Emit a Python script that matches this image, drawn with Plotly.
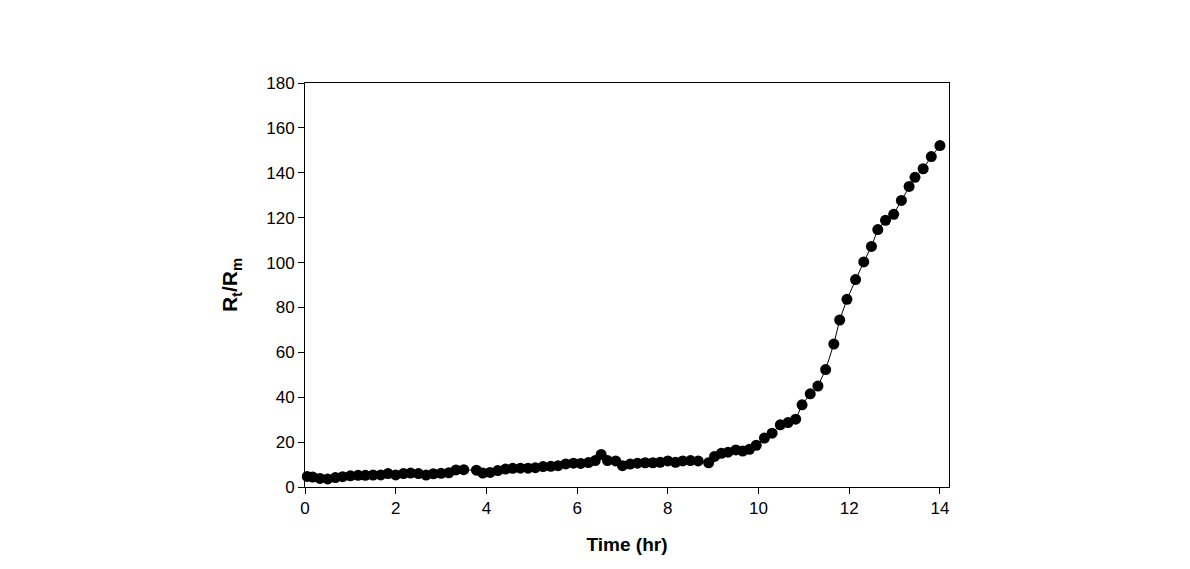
import plotly.graph_objects as go

time_hr = [0.05, 0.17, 0.33, 0.50, 0.67, 0.83, 1.00, 1.17, 1.33, 1.50, 1.67, 1.83,
           2.00, 2.17, 2.33, 2.50, 2.67, 2.83, 3.00, 3.17, 3.33, 3.50, 3.78, 3.92,
           4.08, 4.25, 4.42, 4.58, 4.75, 4.92, 5.08, 5.25, 5.42, 5.58, 5.75, 5.92,
           6.08, 6.25, 6.40, 6.53, 6.67, 6.85, 7.00, 7.17, 7.33, 7.50, 7.67, 7.83,
           8.00, 8.17, 8.33, 8.50, 8.67, 8.90, 9.03, 9.18, 9.33, 9.50, 9.65, 9.80,
           9.95, 10.13, 10.30, 10.48, 10.65, 10.82, 10.96, 11.14, 11.31, 11.48, 11.66, 11.79,
           11.95, 12.14, 12.32, 12.49, 12.63, 12.80, 12.98, 13.15, 13.32, 13.45, 13.63, 13.81,
           14.00]
ratio = [4.7, 4.4, 3.8, 3.6, 4.2, 4.6, 5.0, 5.2, 5.2, 5.3, 5.4, 6.0,
         5.4, 6.0, 6.2, 6.0, 5.3, 5.9, 6.1, 6.3, 7.6, 7.7, 7.5, 6.2,
         6.5, 7.3, 8.0, 8.3, 8.4, 8.4, 8.6, 9.1, 9.2, 9.5, 10.3, 10.6,
         10.5, 10.9, 11.8, 14.5, 11.8, 11.6, 9.5, 10.2, 10.6, 10.8, 10.8, 11.0,
         11.6, 11.0, 11.6, 11.8, 11.6, 10.8, 13.6, 15.0, 15.5, 16.5, 16.0, 16.8,
         18.6, 21.8, 24.0, 27.7, 28.7, 30.2, 36.6, 41.5, 45.0, 52.3, 63.7, 74.4,
         83.6, 92.4, 100.3, 107.2, 114.7, 118.8, 121.5, 127.7, 133.9, 138.0, 141.8, 147.2,
         152.1]

x_ticks = [0, 2, 4, 6, 8, 10, 12, 14]
y_ticks = [0, 20, 40, 60, 80, 100, 120, 140, 160, 180]

fig = go.Figure()
fig.add_trace(go.Scatter(
    x=time_hr, y=ratio, mode="lines+markers",
    line=dict(color="black", width=1),
    marker=dict(color="black", size=11),
    cliponaxis=False, showlegend=False,
))

font = "Liberation Sans, Arial, sans-serif"
fig.update_layout(
    width=1190, height=569,
    paper_bgcolor="white", plot_bgcolor="white",
    margin=dict(l=297, r=249, t=75, b=90),
    font=dict(family=font, size=17, color="black"),
)
fig.update_xaxes(
    range=[0, 14.2], tickvals=x_ticks, ticks="outside", ticklen=6, tickwidth=1,
    tickcolor="black", showline=True, linecolor="black", linewidth=1, mirror=True,
    showgrid=False, zeroline=False,
    title=dict(text="<b>Time (hr)</b>", font=dict(size=19), standoff=20),
)
fig.update_yaxes(
    range=[0, 180], tickvals=y_ticks, ticks="outside", ticklen=6, tickwidth=1,
    tickcolor="black", showline=True, linecolor="black", linewidth=1, mirror=True,
    showgrid=False, zeroline=False,
    title=dict(text="<b>R<sub>t</sub>/R<sub>m</sub></b>", font=dict(size=21), standoff=22),
)

fig.write_html("out.html")
